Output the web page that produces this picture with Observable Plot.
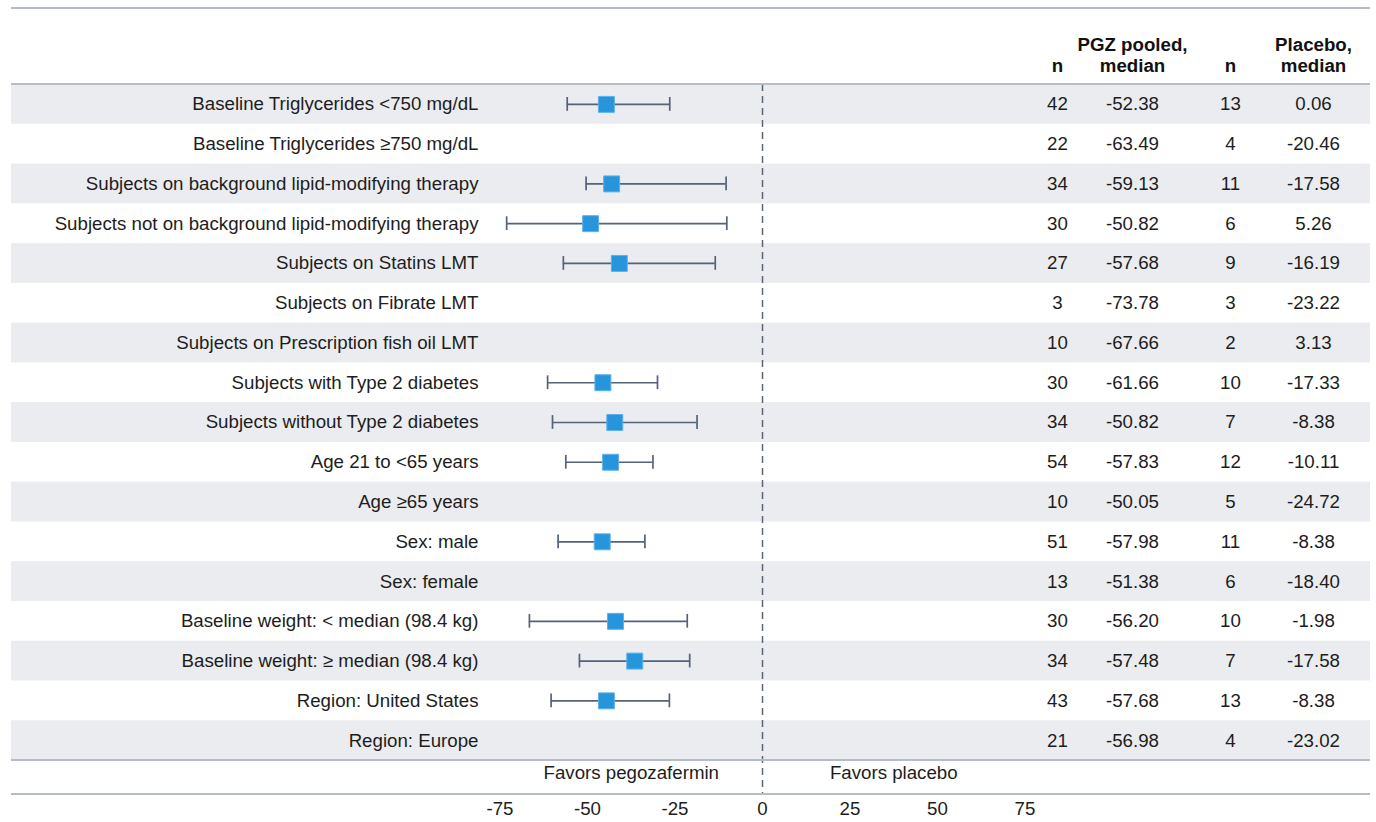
<!DOCTYPE html>
<html>
<head>
<meta charset="utf-8">
<script src="https://cdn.jsdelivr.net/npm/d3@7"></script>
<script src="https://cdn.jsdelivr.net/npm/@observablehq/plot@0.6"></script>
<style>
  html, body { margin: 0; padding: 0; background: #fff; }
  #fig { position: relative; width: 1376px; height: 822px; font-family: "Liberation Sans", Arial, Helvetica, sans-serif; color: #1d1d1d; overflow: hidden; }
  #fig svg { display: block; }
  .hline { position: absolute; left: 11px; width: 1359px; height: 2px; background: #b6bcc4; }
</style>
</head>
<body>
<div id="fig"></div>
<script>
// ---------------- data ----------------
const labels = [
  "Baseline Triglycerides <750 mg/dL",
  "Baseline Triglycerides \u2265750 mg/dL",
  "Subjects on background lipid-modifying therapy",
  "Subjects not on background lipid-modifying therapy",
  "Subjects on Statins LMT",
  "Subjects on Fibrate LMT",
  "Subjects on Prescription fish oil LMT",
  "Subjects with Type 2 diabetes",
  "Subjects without Type 2 diabetes",
  "Age 21 to <65 years",
  "Age \u226565 years",
  "Sex: male",
  "Sex: female",
  "Baseline weight: < median (98.4 kg)",
  "Baseline weight: \u2265 median (98.4 kg)",
  "Region: United States",
  "Region: Europe"
];
const estimate = [-44.6, null, -43.1, -49.1, -40.9, null, null, -45.6, -42.2, -43.4, null, -45.8, null, -42.0, -36.5, -44.6, null];
const ciLow    = [-55.8, null, -50.4, -73.1, -56.9, null, null, -61.4, -60.0, -56.2, null, -58.4, null, -66.6, -52.3, -60.4, null];
const ciHigh   = [-26.5, null, -10.4, -10.2, -13.5, null, null, -30.0, -18.7, -31.3, null, -33.6, null, -21.5, -20.8, -26.6, null];
const nPGZ     = [42, 22, 34, 30, 27, 3, 10, 30, 34, 54, 10, 51, 13, 30, 34, 43, 21];
const medPGZ   = [-52.38, -63.49, -59.13, -50.82, -57.68, -73.78, -67.66, -61.66, -50.82, -57.83, -50.05, -57.98, -51.38, -56.20, -57.48, -57.68, -56.98];
const nPlacebo = [13, 4, 11, 6, 9, 3, 2, 10, 7, 12, 5, 11, 6, 10, 7, 13, 4];
const medPlacebo = [0.06, -20.46, -17.58, 5.26, -16.19, -23.22, 3.13, -17.33, -8.38, -10.11, -24.72, -8.38, -18.40, -1.98, -17.58, -8.38, -23.02];
const xTicks = [-75, -50, -25, 0, 25, 50, 75];
const favorsText = ["Favors pegozafermin", "Favors placebo"];
const favorsAt = [-37.5, 37.5];
const headers = ["n", "PGZ pooled,\nmedian", "n", "Placebo,\nmedian"];

// ---------------- build ----------------
const rows = labels.map((label, i) => ({
  label, i,
  est: estimate[i], lo: ciLow[i], hi: ciHigh[i],
  n1: nPGZ[i], m1: medPGZ[i].toFixed(2), n2: nPlacebo[i], m2: medPlacebo[i].toFixed(2)
}));
const ci = rows.filter(d => d.est != null);
const favors = favorsText.map((text, i) => ({text, x: favorsAt[i]}));

const fig = document.getElementById("fig");
const FONT = "'Liberation Sans', Arial, Helvetica, sans-serif";
const FS = 18.7;
const baseStyle = {fontFamily: FONT, fontSize: FS + "px", color: "#1d1d1d", background: "transparent", overflow: "visible"};
function place(el, left, top) {
  el.style.position = "absolute";
  el.style.left = left + "px";
  el.style.top = top + "px";
  fig.appendChild(el);
}
function hline(top) {
  const d = document.createElement("div");
  d.className = "hline";
  d.style.top = top + "px";
  fig.appendChild(d);
}
const ROWS_TOP = 84, ROWS_H = 676;
const yBand = {type: "band", domain: labels, padding: 0, round: false, axis: null};
const INK = "#55627a";

// striped background
place(Plot.plot({
  width: 1359, height: ROWS_H, margin: 0, style: baseStyle,
  x: {axis: null},
  y: {...yBand, range: [0, ROWS_H]},
  marks: [Plot.cell(rows.filter(d => d.i % 2 === 0), {y: "label", fill: "#ebecef"})]
}), 11, ROWS_TOP);

// row labels
place(Plot.plot({
  width: 480, height: ROWS_H, margin: 0, style: baseStyle,
  x: {axis: null},
  y: {...yBand, range: [0, ROWS_H]},
  marks: [Plot.text(rows, {y: "label", text: "label", frameAnchor: "right", dx: -12, fontSize: FS, fill: "#1d1d1d"})]
}), 10, ROWS_TOP);

// forest panel
const FW = 540;
place(Plot.plot({
  width: FW, height: 738, marginTop: 0, marginBottom: 28, marginLeft: 0, marginRight: 0,
  style: baseStyle,
  x: {domain: [-75, 75], range: [9.5, 534.5]},
  y: {...yBand, range: [0, ROWS_H]},
  marks: [
    Plot.ruleX([0], {stroke: "#5a6576", strokeWidth: 1.5, strokeDasharray: "7,5"}),
    Plot.ruleY(ci, {y: "label", x1: "lo", x2: "hi", stroke: INK, strokeWidth: 1.7}),
    Plot.tickX(ci, {x: "lo", y: "label", insetTop: 13, insetBottom: 13, stroke: INK, strokeWidth: 1.7}),
    Plot.tickX(ci, {x: "hi", y: "label", insetTop: 13, insetBottom: 13, stroke: INK, strokeWidth: 1.7}),
    Plot.dot(ci, {x: "est", y: "label", symbol: "square", r: 9, fill: "#2795dc", stroke: "#5eb1ea", strokeWidth: 1}),
    Plot.text(favors, {x: "x", text: "text", frameAnchor: "bottom", dy: -16, fontSize: FS, fill: "#1d1d1d"}),
    Plot.axisX({ticks: xTicks, tickSize: 0, tickPadding: 7, fontSize: FS, label: null, tickFormat: d => String(d)})
  ]
}), 490, ROWS_TOP);

// table columns
const cols = [
  {key: "n1", left: 1030, width: 54},
  {key: "m1", left: 1084, width: 96},
  {key: "n2", left: 1180, width: 100},
  {key: "m2", left: 1270, width: 86}
];
cols.forEach((c, j) => {
  place(Plot.plot({
    width: c.width, height: ROWS_TOP + ROWS_H, marginTop: ROWS_TOP, marginBottom: 0, marginLeft: 0, marginRight: 0,
    style: baseStyle,
    x: {axis: null},
    y: {...yBand},
    marks: [
      Plot.text(rows, {y: "label", text: c.key, fontSize: FS, fill: "#1d1d1d"}),
      Plot.text([headers[j]], {text: d => d, frameAnchor: "top", lineAnchor: "bottom", dy: -13, lineHeight: 1.08, fontSize: FS, fontWeight: "bold", fill: "#111"})
    ]
  }), c.left, 0);
});

// rules
hline(7);
hline(83);
hline(759);
hline(793);
</script>
</body>
</html>
